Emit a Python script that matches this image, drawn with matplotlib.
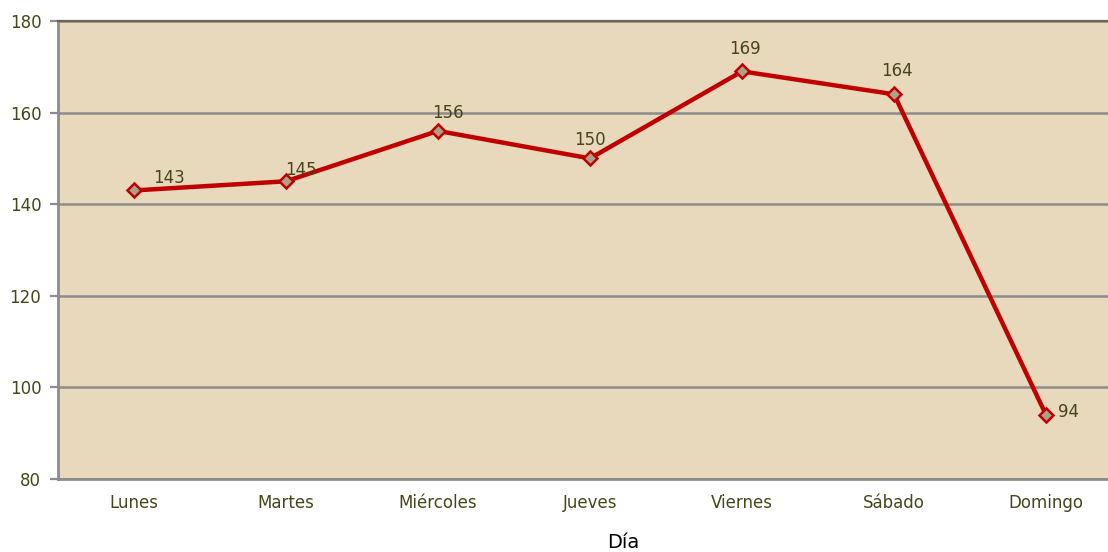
import matplotlib.pyplot as plt

# visitas por dia de la semana
dias = ['Lunes', 'Martes', 'Miércoles', 'Jueves', 'Viernes', 'Sábado', 'Domingo']
valores = [143, 145, 156, 150, 169, 164, 94]
# desplazamiento de cada etiqueta en puntos (dx, dy)
offsets = [(25, 9), (11, 8), (7, 13), (0, 13), (2, 16), (2, 17), (16, 2)]

W, H = 1108, 552
fig = plt.figure(figsize=(W / 100, H / 100), dpi=100)
ax = fig.add_axes([58 / W, 1 - 479 / H, 1064 / W, 458 / H])

txt = '#46461a'
ax.set_facecolor('#e8d8bc')
x = range(len(dias))
ax.plot(x, valores, color='#c00000', lw=3.2, marker='D', ms=7,
        mfc='#aaa286', mec='#c00000', mew=1.8, zorder=3)

for i, v in enumerate(valores):
    dx, dy = offsets[i]
    ax.annotate(str(v), (i, v), xytext=(dx, dy), textcoords='offset points',
                ha='center', va='center', fontsize=12, color=txt)

ax.set_xlim(-0.5, 6.5)
ax.set_ylim(80, 180)
ax.set_yticks(range(80, 181, 20))
ax.set_xticks(list(x))
ax.set_xticklabels(dias)
ax.grid(axis='y', color='#8c8c8c', lw=1.8)
ax.set_axisbelow(True)

for s in ['left', 'bottom']:
    ax.spines[s].set_color('#8c8c8c')
    ax.spines[s].set_linewidth(2)
ax.spines['top'].set_color('#6e6450')
ax.spines['top'].set_linewidth(1.6)
ax.spines['right'].set_visible(False)

ax.tick_params(axis='y', length=6, width=1.6, color='#8c8c8c', labelsize=12,
               labelcolor=txt, pad=6)
ax.tick_params(axis='x', length=0, labelsize=12, labelcolor=txt, pad=11)

fig.text(623 / W, 1 - 543 / H, 'Día', ha='center', va='center',
         fontsize=14, color='black')

fig.savefig('out.png', dpi=100, facecolor='white')
